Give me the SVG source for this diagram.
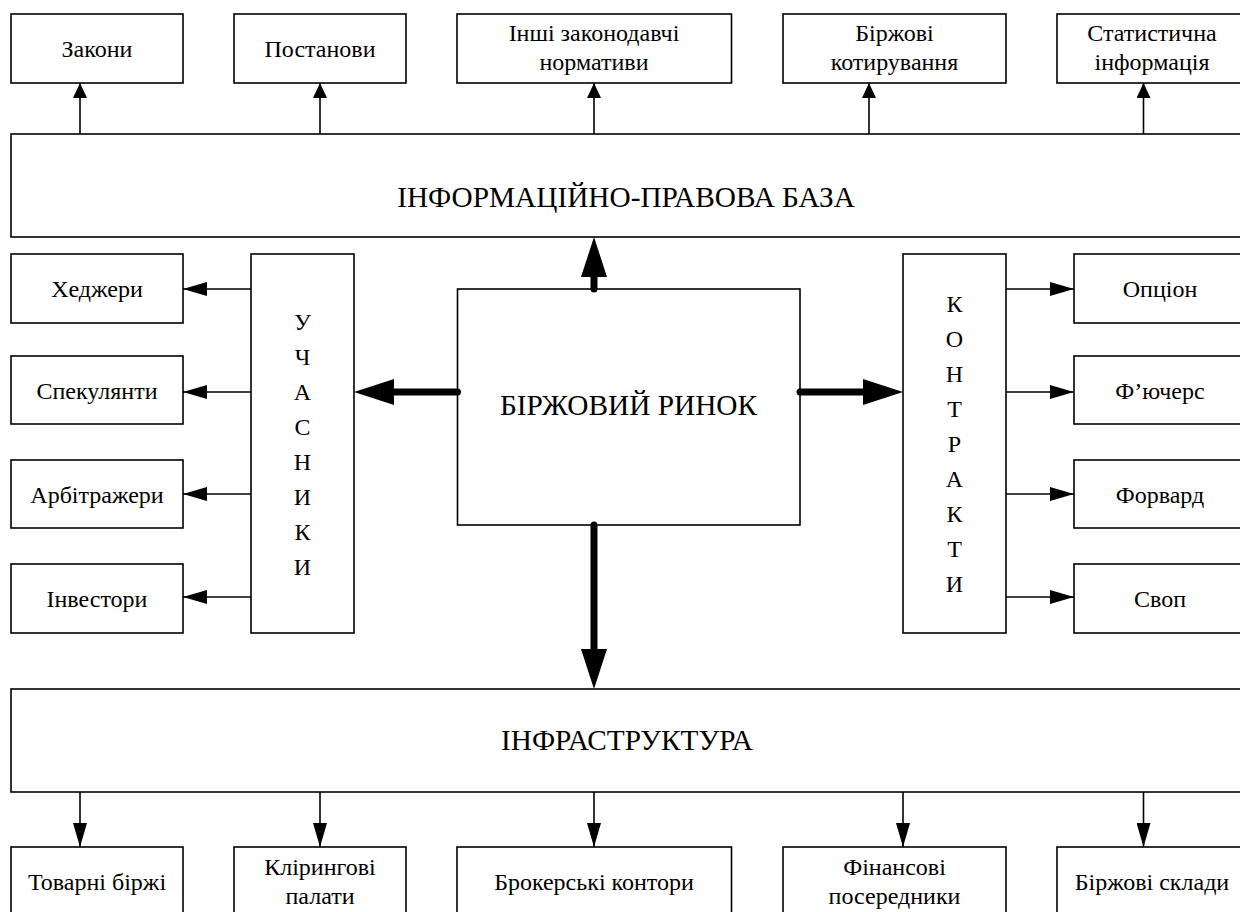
<svg xmlns="http://www.w3.org/2000/svg" width="1240" height="912" viewBox="0 0 1240 912" style="font-family:'Liberation Serif','Times New Roman',serif">
<style>
.box{fill:#fff;stroke:#000;stroke-width:1.6}
.t{font-size:24px;fill:#000;text-anchor:middle}
.big{font-size:29.3px}
.c{stroke:#000;stroke-width:1.6;fill:none}
.thick{stroke:#000;stroke-width:7;stroke-linecap:round;fill:none}
</style>
<defs>
<marker id="as" markerUnits="userSpaceOnUse" viewBox="0 0 15 14" refX="15" refY="7" markerWidth="15" markerHeight="14" orient="auto"><path d="M0,0 L15,7 L0,14 z" fill="#000"/></marker>
<marker id="al" markerUnits="userSpaceOnUse" viewBox="0 0 24 14" refX="24" refY="7" markerWidth="24" markerHeight="14" orient="auto"><path d="M0,0 L24,7 L0,14 z" fill="#000"/></marker>
<marker id="at" markerUnits="userSpaceOnUse" viewBox="0 0 40 26" refX="2" refY="13" markerWidth="40" markerHeight="26" orient="auto"><path d="M0,0 L40,13 L0,26 z" fill="#000"/></marker>
</defs>
<rect width="1240" height="912" fill="#fff"/>

<g id="n-zakony"><rect class="box" x="11" y="14" width="172" height="69"/><text class="t" x="97" y="57">Закони</text></g>
<g id="n-postanovy"><rect class="box" x="234" y="14" width="172" height="69"/><text class="t" x="320" y="57">Постанови</text></g>
<g id="n-inshi"><rect class="box" x="457" y="14" width="274.5" height="69"/><text class="t" x="594" y="41">Інші законодавчі</text><text class="t" x="594" y="70">нормативи</text></g>
<g id="n-kotyruvannia"><rect class="box" x="783" y="14" width="223" height="69"/><text class="t" x="894.5" y="41">Біржові</text><text class="t" x="894.5" y="70">котирування</text></g>
<g id="n-statystyka"><rect class="box" x="1057" y="14" width="190" height="69"/><text class="t" x="1152" y="41">Статистична</text><text class="t" x="1152" y="70">інформація</text></g>

<g id="n-infobaza"><rect class="box" x="11" y="134" width="1233" height="103"/><text class="t big" x="626" y="207">ІНФОРМАЦІЙНО-ПРАВОВА БАЗА</text></g>

<g id="n-hedzhery"><rect class="box" x="11" y="254" width="172" height="69"/><text class="t" x="97" y="297">Хеджери</text></g>
<g id="n-spekulianty"><rect class="box" x="11" y="356" width="172" height="68"/><text class="t" x="97" y="399">Спекулянти</text></g>
<g id="n-arbitrazhery"><rect class="box" x="11" y="460" width="172" height="68"/><text class="t" x="97" y="503">Арбітражери</text></g>
<g id="n-investory"><rect class="box" x="11" y="564" width="172" height="69"/><text class="t" x="97" y="607">Інвестори</text></g>

<g id="n-uchasnyky"><rect class="box" x="251" y="254" width="103" height="379"/><text class="t"><tspan x="302.5" y="330">У</tspan><tspan x="302.5" y="365">Ч</tspan><tspan x="302.5" y="400">А</tspan><tspan x="302.5" y="435">С</tspan><tspan x="302.5" y="470">Н</tspan><tspan x="302.5" y="505">И</tspan><tspan x="302.5" y="540">К</tspan><tspan x="302.5" y="575">И</tspan></text></g>

<g id="n-rynok"><rect class="box" x="457.5" y="289" width="342.5" height="236"/><text class="t big" x="628.5" y="415">БІРЖОВИЙ РИНОК</text></g>

<g id="n-kontrakty"><rect class="box" x="903" y="254" width="103" height="379"/><text class="t"><tspan x="954.5" y="312">К</tspan><tspan x="954.5" y="347">О</tspan><tspan x="954.5" y="382">Н</tspan><tspan x="954.5" y="417">Т</tspan><tspan x="954.5" y="452">Р</tspan><tspan x="954.5" y="487">А</tspan><tspan x="954.5" y="522">К</tspan><tspan x="954.5" y="557">Т</tspan><tspan x="954.5" y="592">И</tspan></text></g>

<g id="n-opcion"><rect class="box" x="1074" y="254" width="172" height="69"/><text class="t" x="1160" y="297">Опціон</text></g>
<g id="n-f-uchers"><rect class="box" x="1074" y="356" width="172" height="68"/><text class="t" x="1160" y="399">Ф’ючерс</text></g>
<g id="n-forvard"><rect class="box" x="1074" y="460" width="172" height="68"/><text class="t" x="1160" y="503">Форвард</text></g>
<g id="n-svop"><rect class="box" x="1074" y="564" width="172" height="69"/><text class="t" x="1160" y="607">Своп</text></g>

<g id="n-infrastruktura"><rect class="box" x="11" y="689" width="1233" height="103"/><text class="t big" x="627" y="750">ІНФРАСТРУКТУРА</text></g>

<g id="n-tovarni"><rect class="box" x="11" y="847" width="172" height="69"/><text class="t" x="97" y="890">Товарні біржі</text></g>
<g id="n-kliryngovi"><rect class="box" x="234" y="847" width="172" height="69"/><text class="t" x="320" y="875">Клірингові</text><text class="t" x="320" y="904">палати</text></g>
<g id="n-brokerski"><rect class="box" x="457" y="847" width="274.5" height="69"/><text class="t" x="594" y="890">Брокерські контори</text></g>
<g id="n-finansovi"><rect class="box" x="783" y="847" width="223" height="69"/><text class="t" x="894.5" y="875">Фінансові</text><text class="t" x="894.5" y="904">посередники</text></g>
<g id="n-sklady"><rect class="box" x="1057" y="847" width="190" height="69"/><text class="t" x="1152" y="890">Біржові склади</text></g>

<g id="connectors">
<line class="c" x1="80" y1="134" x2="80" y2="83" marker-end="url(#as)"/>
<line class="c" x1="320" y1="134" x2="320" y2="83" marker-end="url(#as)"/>
<line class="c" x1="594" y1="134" x2="594" y2="83" marker-end="url(#as)"/>
<line class="c" x1="869" y1="134" x2="869" y2="83" marker-end="url(#as)"/>
<line class="c" x1="1143.5" y1="134" x2="1143.5" y2="83" marker-end="url(#as)"/>

<line class="c" x1="251" y1="289" x2="183" y2="289" marker-end="url(#al)"/>
<line class="c" x1="251" y1="392" x2="183" y2="392" marker-end="url(#al)"/>
<line class="c" x1="251" y1="494" x2="183" y2="494" marker-end="url(#al)"/>
<line class="c" x1="251" y1="597" x2="183" y2="597" marker-end="url(#al)"/>

<line class="c" x1="1006" y1="289" x2="1074" y2="289" marker-end="url(#al)"/>
<line class="c" x1="1006" y1="392" x2="1074" y2="392" marker-end="url(#al)"/>
<line class="c" x1="1006" y1="494" x2="1074" y2="494" marker-end="url(#al)"/>
<line class="c" x1="1006" y1="597" x2="1074" y2="597" marker-end="url(#al)"/>

<line class="thick" x1="594" y1="289" x2="594" y2="275" marker-end="url(#at)"/>
<line class="thick" x1="594" y1="525" x2="594" y2="651" marker-end="url(#at)"/>
<line class="thick" x1="457.5" y1="392" x2="392" y2="392" marker-end="url(#at)"/>
<line class="thick" x1="800" y1="392" x2="865" y2="392" marker-end="url(#at)"/>

<line class="c" x1="80" y1="792" x2="80" y2="847" marker-end="url(#al)"/>
<line class="c" x1="320" y1="792" x2="320" y2="847" marker-end="url(#al)"/>
<line class="c" x1="594" y1="792" x2="594" y2="847" marker-end="url(#al)"/>
<line class="c" x1="903" y1="792" x2="903" y2="847" marker-end="url(#al)"/>
<line class="c" x1="1143.5" y1="792" x2="1143.5" y2="847" marker-end="url(#al)"/>
</g>
</svg>
